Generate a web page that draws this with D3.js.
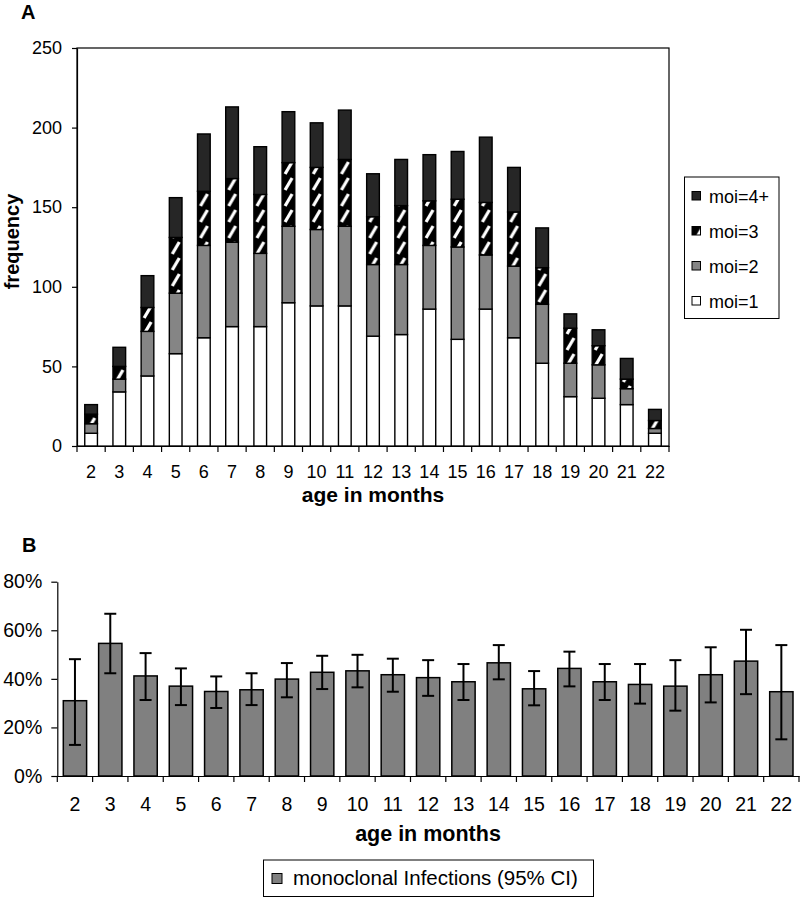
<!DOCTYPE html>
<html><head><meta charset="utf-8">
<script src="https://cdn.jsdelivr.net/npm/d3@7"></script>
<style>
body{margin:0;background:#fff}
svg{display:block}
text{font-family:'Liberation Sans',Arial,Helvetica,sans-serif;fill:#000}
</style>
</head><body><script>
// ---------- data ----------
const ages = [2,3,4,5,6,7,8,9,10,11,12,13,14,15,16,17,18,19,20,21,22];
const moi1 = [8,34,44,58,68,75,75,90,88,88,69,70,86,67,86,68,52,31,30,26,8];
const moi2 = [6,8,28,38,58,53,46,48,48,50,45,44,40,58,34,45,37,21,21,10,3];
const moi3 = [6,8,15,35,34,40,37,40,39,42,30,37,28,30,33,34,23,22,12,6,5];
const moi4 = [6,12,20,25,36,45,30,32,28,31,27,29,29,30,41,28,25,9,10,13,7];
const seriesKeys = ["moi1","moi2","moi3","moi4"];
const seriesLabels = ["moi=1","moi=2","moi=3","moi=4+"];
const freqTicks = [0,50,100,150,200,250];

const monoPct = [31.0,54.6,41.2,37.0,34.8,35.5,39.9,42.7,43.3,41.7,40.5,38.8,46.6,35.9,44.3,38.8,37.7,37.0,41.7,47.3,34.7];
const ciLow   = [12.8,42.3,31.3,29.2,28.0,29.2,32.4,35.8,36.5,34.7,33.0,31.3,39.8,29.1,36.9,31.3,29.8,26.9,30.3,33.7,15.1];
const ciHigh  = [48.1,66.8,50.6,44.3,41.0,42.3,46.5,49.5,49.9,48.3,47.7,46.1,53.9,43.2,51.2,46.1,46.1,47.7,53.0,60.2,53.9];
const pctTicks = [0,20,40,60,80];

// ---------- setup ----------
const svg = d3.select("body").append("svg").attr("width",800).attr("height",897);
const fills = {moi1:"#ffffff", moi2:"#858585", moi3:"url(#hatch)", moi4:"#262626"};

const defs = svg.append("defs");
const pat = defs.append("pattern").attr("id","hatch").attr("patternUnits","userSpaceOnUse")
  .attr("width",12.7).attr("height",16);
pat.append("rect").attr("width",12.7).attr("height",16).attr("fill","#000");
pat.append("path").attr("d","M3,14 L10,2").attr("stroke","#fff").attr("stroke-width",3.2).attr("fill","none");

// ---------- chart A ----------
const xA = d3.scaleBand().domain(ages).range([77,669]).paddingInner(0).paddingOuter(0);
const yA = d3.scaleLinear().domain([0,250]).range([446,48]);
const rows = ages.map((a,i)=>({age:a, moi1:moi1[i], moi2:moi2[i], moi3:moi3[i], moi4:moi4[i]}));
const stacked = d3.stack().keys(seriesKeys)(rows);
const barWA = xA.bandwidth()*0.45;

// frame
svg.append("rect").attr("x",77).attr("y",48).attr("width",669-77).attr("height",446-48)
  .attr("fill","none").attr("stroke","#000").attr("stroke-width",1.2);

const gBarsA = svg.append("g");
rows.forEach((r,i)=>{
  const g = gBarsA.append("g").attr("transform",`translate(${xA(r.age)+(xA.bandwidth()-barWA)/2},0)`);
  stacked.forEach(s=>{
    const d = s[i];
    g.append("rect").attr("x",0).attr("width",barWA)
      .attr("y",yA(d[1])).attr("height",yA(d[0])-yA(d[1]))
      .attr("fill",fills[s.key]).attr("stroke","#000").attr("stroke-width",1.4);
  });
});

// y axis A
const axYA = svg.append("g").attr("transform","translate(77,0)")
  .call(d3.axisLeft(yA).tickValues(freqTicks).tickSize(5).tickPadding(10).tickSizeOuter(0));
axYA.select(".domain").attr("stroke-width",1.2);
axYA.selectAll("text").style("font-size","18px").attr("font-family",null);
axYA.selectAll("line").attr("stroke-width",1.2);

// x axis A
const axXA = svg.append("g").attr("transform","translate(0,446)")
  .call(d3.axisBottom(xA).tickSize(0).tickPadding(19).tickSizeOuter(0));
axXA.select(".domain").attr("stroke-width",1.2);
axXA.selectAll("text").style("font-size","18px").attr("font-family",null);
const bA = ages.map(a=>xA(a)).concat([xA.range()[1]]);
axXA.selectAll(".bt").data(bA).join("line").attr("class","bt")
  .attr("x1",d=>d).attr("x2",d=>d).attr("y1",0).attr("y2",6).attr("stroke","#000").attr("stroke-width",1.2);

svg.append("text").attr("x",21).attr("y",19).style("font-size","20px").style("font-weight","bold").text("A");
svg.append("text").attr("transform","translate(19,241.5) rotate(-90)").attr("text-anchor","middle")
  .style("font-size","20px").style("font-weight","bold").text("frequency");
svg.append("text").attr("x",373).attr("y",502).attr("text-anchor","middle")
  .style("font-size","21px").style("font-weight","bold").text("age in months");

// legend A
svg.append("rect").attr("x",684.5).attr("y",177).attr("width",94.5).attr("height",141.5)
  .attr("fill","#fff").attr("stroke","#000").attr("stroke-width",1);
const legOrder = [3,2,1,0];
legOrder.forEach((k,j)=>{
  const base = 203 + j*35;
  const g = svg.append("g").attr("transform",`translate(692,${base-11.5})`);
  g.append("rect").attr("width",8.5).attr("height",8.5)
    .attr("fill",fills[seriesKeys[k]]).attr("stroke","#000").attr("stroke-width",1);
  svg.append("text").attr("x",709).attr("y",base).style("font-size","18px").text(seriesLabels[k]);
});

// ---------- chart B ----------
const xB = d3.scaleBand().domain(ages).range([57.3,799]).paddingInner(0).paddingOuter(0);
const yB = d3.scaleLinear().domain([0,80]).range([776,581.7]);
const barWB = xB.bandwidth()*0.66;

const gBarsB = svg.append("g");
ages.forEach((a,i)=>{
  const cx = xB(a)+xB.bandwidth()/2;
  gBarsB.append("rect").attr("x",cx-barWB/2).attr("width",barWB)
    .attr("y",yB(monoPct[i])).attr("height",yB(0)-yB(monoPct[i]))
    .attr("fill","#808080").attr("stroke","#000").attr("stroke-width",1.5);
  gBarsB.append("line").attr("x1",cx).attr("x2",cx).attr("y1",yB(ciLow[i])).attr("y2",yB(ciHigh[i]))
    .attr("stroke","#000").attr("stroke-width",2);
  [ciLow[i],ciHigh[i]].forEach(v=>{
    gBarsB.append("line").attr("x1",cx-6).attr("x2",cx+6).attr("y1",yB(v)).attr("y2",yB(v))
      .attr("stroke","#000").attr("stroke-width",2);
  });
});

const axYB = svg.append("g").attr("transform","translate(57.3,0)")
  .call(d3.axisLeft(yB).tickValues(pctTicks).tickFormat(d=>d+"%").tickSize(6).tickPadding(9).tickSizeOuter(0));
axYB.select(".domain").attr("stroke-width",1.2);
axYB.selectAll("text").style("font-size","19.5px").attr("font-family",null);
axYB.selectAll("line").attr("stroke-width",1.2);

const axXB = svg.append("g").attr("transform","translate(0,776)")
  .call(d3.axisBottom(xB).tickSize(0).tickPadding(21).tickSizeOuter(0));
axXB.select(".domain").attr("stroke-width",1.2);
axXB.selectAll("text").style("font-size","19.5px").attr("font-family",null);
const bB = ages.map(a=>xB(a)).concat([xB.range()[1]]);
axXB.selectAll(".bt").data(bB).join("line").attr("class","bt")
  .attr("x1",d=>d).attr("x2",d=>d).attr("y1",0).attr("y2",6).attr("stroke","#000").attr("stroke-width",1.2);

svg.append("text").attr("x",22).attr("y",552).style("font-size","20px").style("font-weight","bold").text("B");
svg.append("text").attr("x",428).attr("y",841).attr("text-anchor","middle")
  .style("font-size","21.5px").style("font-weight","bold").text("age in months");

// legend B
svg.append("rect").attr("x",263.5).attr("y",860).attr("width",330).attr("height",36.5)
  .attr("fill","#fff").attr("stroke","#000").attr("stroke-width",1);
svg.append("rect").attr("x",272).attr("y",873.5).attr("width",10).attr("height",10)
  .attr("fill","#808080").attr("stroke","#000").attr("stroke-width",1);
svg.append("text").attr("x",293).attr("y",885).style("font-size","20.5px").text("monoclonal Infections (95% CI)");
</script></body></html>
